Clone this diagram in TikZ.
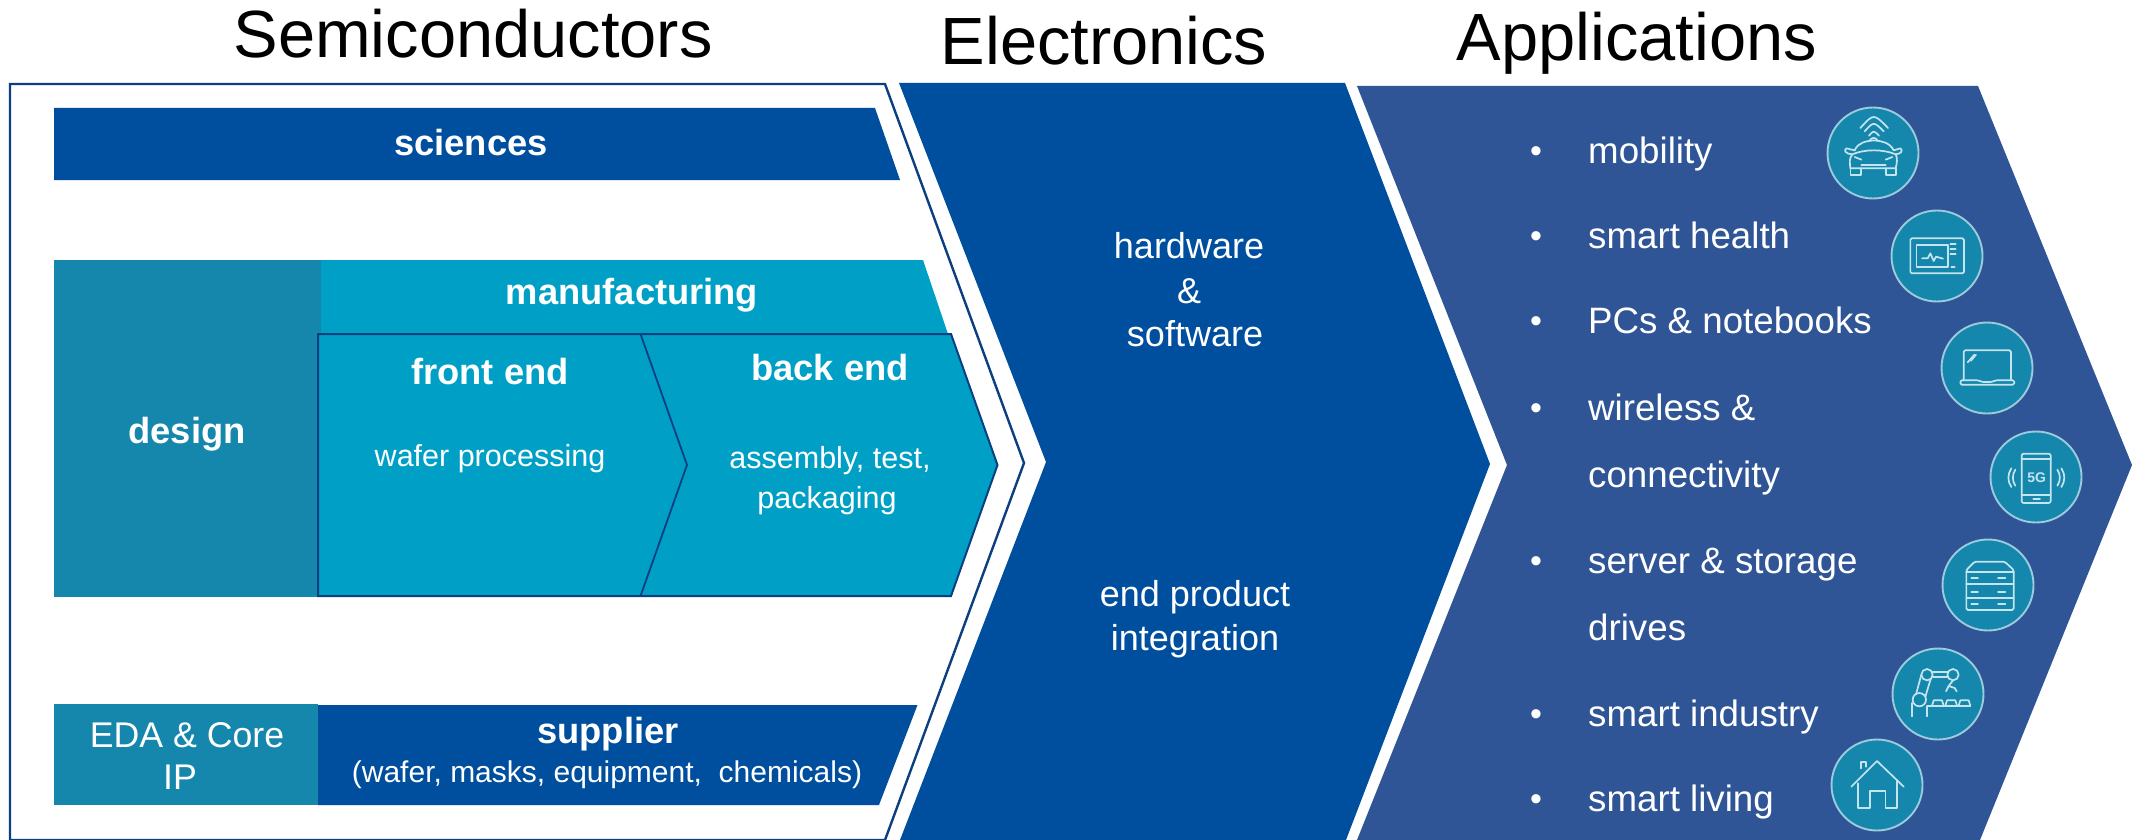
\documentclass[tikz,border=0pt]{standalone}
\usepackage{fontspec}
\setmainfont{Liberation Sans}
\definecolor{dkblue}{HTML}{004F9F}
\definecolor{appblue}{HTML}{2F5597}
\definecolor{tealdk}{HTML}{1587AD}
\definecolor{teallt}{HTML}{00A0C6}
\definecolor{edgeblue}{HTML}{0B3F80}
\definecolor{ringc}{HTML}{9CCBDC}
\definecolor{iconline}{HTML}{C4E4EE}
\tikzset{
  lbl/.style={text=white,inner sep=0pt,anchor=base,yshift=-11pt,align=center,font=\fontsize{30.5}{38}\selectfont},
  lblb/.style={text=white,inner sep=0pt,anchor=base,yshift=-13pt,font=\fontsize{36.3}{42}\selectfont\bfseries},
  lble/.style={text=white,inner sep=0pt,anchor=base,yshift=-13pt,font=\fontsize{36}{42}\selectfont},
  lblapp/.style={text=white,inner sep=0pt,anchor=base west,yshift=-13pt,font=\fontsize{36.7}{42}\selectfont},
  bul/.style={text=white,inner sep=0pt,anchor=base,yshift=-12pt,font=\fontsize{34}{40}\selectfont},
  titlenode/.style={text=black,inner sep=0pt,anchor=base,yshift=-24pt,font=\fontsize{66.8}{76}\selectfont},
  iconring/.style={fill=tealdk,draw=ringc,line width=1.9pt},
  ic/.style={draw=iconline,line width=1.7pt,line cap=round,line join=round},
}
\begin{document}
\begin{tikzpicture}[x=1pt,y=-1pt]
\useasboundingbox (0,0) rectangle (2143,840);
\fill[white] (0,0) rectangle (2143,840);
% titles
\node[titlenode] (t1) at (473,34) {Semiconductors};
\node[titlenode] (t2) at (1104,41) {Electronics};
\node[titlenode] (t3) at (1637,37) {Applications};
% main chevrons
\draw[edgeblue,line width=2.4pt,fill=white] (10,84) -- (885,84) -- (1024,463) -- (885,840) -- (10,840) -- cycle;
\fill[dkblue] (899,83) -- (1345,83) -- (1490,464) -- (1346,840) -- (900,840) -- (1046,462) -- cycle;
\fill[appblue] (1357,86) -- (1978,86) -- (2132,465) -- (1980,840) -- (1357,840) -- (1507,465) -- cycle;
% inner blocks
\fill[dkblue] (54,108) -- (875,108) -- (900,180) -- (54,180) -- cycle;
\fill[tealdk] (54,260) rectangle (321,597);
\fill[teallt] (321,260) -- (923,260) -- (948,334) -- (321,334) -- cycle;
\draw[edgeblue,line width=2pt,fill=teallt] (318,334) -- (951,334) -- (997.5,465) -- (951,596) -- (318,596) -- cycle;
\draw[edgeblue,line width=1.8pt] (640.5,334) -- (687,465) -- (640.5,596);
\fill[tealdk] (54,704) rectangle (318,805);
\fill[dkblue] (318,705) -- (917.5,705) -- (879,805) -- (318,805) -- cycle;
% left labels
\node[lblb] (sci) at (471,142) {sciences};
\node[lblb] (des) at (187,430) {design};
\node[lblb] (man) at (632,291) {manufacturing};
\node[lblb] (fe) at (490,371) {front end};
\node[lbl] (wp) at (490,455) {wafer processing};
\node[lblb] (be) at (830,367) {back end};
\node[lbl] (as) at (830,457) {assembly, test,};
\node[lbl] (pk) at (827,497) {packaging};
\node[lble,font=\fontsize{35.7}{42}\selectfont] (eda) at (187,734) {EDA \& Core};
\node[lble,font=\fontsize{35.7}{42}\selectfont] (ip) at (180,776) {IP};
\node[lblb] (sup) at (608,730) {supplier};
\node[lbl,font=\fontsize{30}{38}\selectfont] (supd) at (607,771) {(wafer, masks, equipment, \ chemicals)};
% electronics labels
\node[lble] (hw) at (1189,245) {hardware};
\node[lble] (amp) at (1189,290) {\&};
\node[lble] (sw) at (1195,333) {software};
\node[lble] (ep) at (1195,593) {end product};
\node[lble] (ig) at (1195,637) {integration};
% application list
\foreach \n/\yy/\tx in {a/150/mobility,b/235/smart health,c/320/PCs \& notebooks,d/407/wireless \&,f/560/server \& storage,h/713/smart industry,i/798/smart living}{
  \node[bul] (bul\n) at (1536,\yy) {•};
  \node[lblapp] (app\n) at (1588,\yy) {\tx};
}
\node[lblapp] (appe) at (1588,474) {connectivity};
\node[lblapp] (appg) at (1588,627) {drives};
% icon rings
\foreach \cx/\cy in {1873/153,1937/256,1987/368,2036/477,1988/585,1938/694,1877/785}{
  \draw[iconring] (\cx,\cy) circle[radius=45.5];
}
% car
\begin{scope}[shift={(1873,153)},x=0.3333pt,y=-0.3333pt,ic]
\draw[ic] (-38,-75) .. controls (2,-119) .. (45,-75);
\draw[ic] (-25,-65) .. controls (2,-95) .. (32,-65);
\draw[ic] (-12,-52) .. controls (2,-68) .. (18,-52);
\draw[ic] (-55,-8) .. controls (-45,-32) and (-20,-36) .. (3,-38) .. controls (25,-36) and (50,-32) .. (62,-8);
\draw[ic] (-10,-37) .. controls (-5,-48) and (8,-48) .. (14,-37);
\draw[ic] (-55,-8) -- (-80,-14) .. controls (-88,-8) and (-85,2) .. (-62,4);
\draw[ic] (62,-8) -- (82,-14) .. controls (90,-8) and (87,2) .. (68,4);
\draw[ic] (-62,4) .. controls (-72,15) and (-70,30) .. (-68,46) -- (68,46) .. controls (72,30) and (74,15) .. (68,4) .. controls (30,-12) and (-25,-12) .. (-62,4);
\draw[ic] (-55,12) -- (-35,20);
\draw[ic] (58,12) -- (38,20);
\draw[ic] (-35,35) -- (38,35);
\draw[ic] (-68,46) -- (-68,66) -- (-36,66) -- (-36,46);
\draw[ic] (38,46) -- (38,66) -- (68,66) -- (68,46);
\end{scope}
% monitor
\begin{scope}[shift={(1937,256)},x=0.3333pt,y=-0.3333pt]
\draw[ic,rounded corners=1.5pt] (-80,-53) rectangle (81,52);
\draw[ic] (-62,-33) rectangle (33,34);
\draw[ic] (-45,7) -- (-28,7) -- (-20,-8) -- (-10,15) -- (-3,2) -- (18,8);
\draw[ic] (40,-35) -- (56,-35);
\draw[ic] (40,-20) -- (56,-20);
\draw[ic] (40,-6) -- (56,-6);
\draw[ic] (43,32) -- (53,32);
\end{scope}
% laptop
\begin{scope}[shift={(1987,368)},x=0.3333pt,y=-0.3333pt]
\draw[ic,rounded corners=1.5pt] (-70,37) -- (-70,-53) -- (72,-53) -- (72,37);
\draw[ic,rounded corners=1.5pt] (-80,37) -- (-80,50) -- (82,50) -- (82,37) -- (25,37) -- (15,42) -- (-15,42) -- (-25,37) -- cycle;
\draw[ic] (-58,-17) -- (-38,-40);
\draw[ic] (-48,-22) -- (-33,-40);
\end{scope}
% phone
\begin{scope}[shift={(2036,477)},x=0.3333pt,y=-0.3333pt]
\draw[ic,rounded corners=2pt] (-43,-70) rectangle (44,78);
\draw[ic] (-43,-54) -- (44,-54);
\draw[ic] (-43,53) -- (44,53);
\draw[ic] (-8,65) -- (12,65);
\node[inner sep=0pt,text=iconline,font=\fontsize{14}{14}\selectfont\bfseries] (fiveg) at (2,2) {5G};
\draw[ic] (-62,-22) .. controls (-72,-8) and (-72,12) .. (-62,26);
\draw[ic] (-74,-26) .. controls (-86,-8) and (-86,12) .. (-74,30);
\draw[ic] (64,-22) .. controls (74,-8) and (74,12) .. (64,26);
\draw[ic] (76,-26) .. controls (88,-8) and (88,12) .. (76,30);
\end{scope}
% server
\begin{scope}[shift={(1988,585)},x=0.3333pt,y=-0.3333pt]
\draw[ic,rounded corners=1.5pt] (-65,75) -- (-65,-45) -- (-40,-70) -- (50,-70) -- (77,-45) -- (77,75) -- cycle;
\draw[ic] (-65,-40) -- (77,-40);
\draw[ic] (-65,-2) -- (77,-2);
\draw[ic] (-65,38) -- (77,38);
\foreach \yy in {-20,20,57}{
  \draw[ic] (-50,\yy) -- (-30,\yy);
  \draw[ic] (30,\yy) -- (52,\yy);
}
\end{scope}
% robot
\begin{scope}[shift={(1938,694)},x=0.3333pt,y=-0.3333pt]
\draw[ic] (-33,-58) circle[radius=17];
\draw[ic] (45,-58) circle[radius=17];
\draw[ic] (-56,17) circle[radius=20];
\draw[ic] (-16,-66) -- (29,-66);
\draw[ic] (-16,-50) -- (29,-50);
\draw[ic] (-50,-58) -- (-66,1);
\draw[ic] (-22,-45) -- (-38,8);
\draw[ic] (-78,27) -- (-78,67);
\draw[ic] (-33,37) -- (-33,67);
\draw[ic] (-33,37) -- (97,37);
\draw[ic] (45,-41) -- (32,-24) -- (50,-18);
\draw[ic] (32,-24) -- (24,-8);
\draw[ic] (50,-18) -- (56,-8);
\foreach \xx in {-18,22,62}{
  \draw[ic] (\xx,35) -- (\xx+5,19) -- (\xx+30,19) -- (\xx+35,35);
}
\end{scope}
% house
\begin{scope}[shift={(1877,785)},x=0.3333pt,y=-0.3333pt]
\draw[ic] (-77,5) -- (0,-72) -- (80,5);
\draw[ic] (-57,-5) -- (-57,70) -- (-22,70) -- (-22,17) -- (25,17) -- (25,70) -- (60,70) -- (60,-15);
\draw[ic] (-49,-50) -- (-49,-70) -- (-34,-70) -- (-34,-55);
\end{scope}
\end{tikzpicture}
\end{document}
